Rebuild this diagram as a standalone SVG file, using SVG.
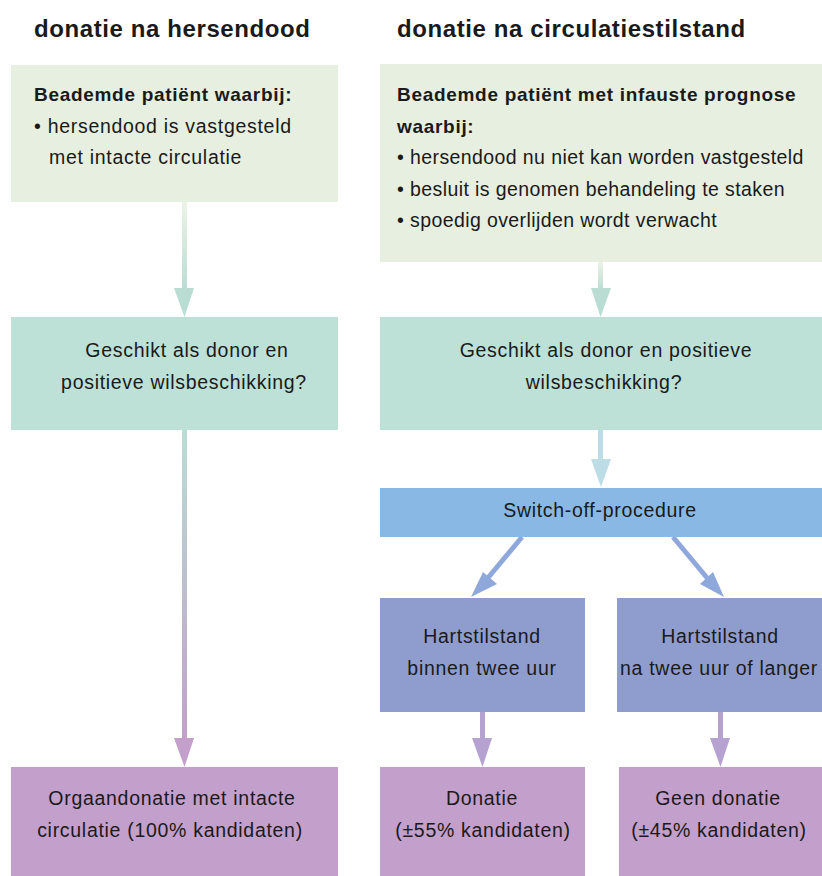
<svg xmlns="http://www.w3.org/2000/svg" width="822" height="876" viewBox="0 0 822 876">
  <style>
    text { font-family: "Liberation Sans", Arial, sans-serif; fill: #1a1a1a; }
    .h { font-size: 24px; font-weight: bold; letter-spacing: 0.6px; }
    .b { font-size: 19px; font-weight: bold; letter-spacing: 0.7px; }
    .t { font-size: 19.5px; letter-spacing: 0.7px; }
    .tn { letter-spacing: 0.4px; }
    .c { text-anchor: middle; }
    .g1 { fill: #e6efe0; }
    .g2 { fill: #bde0d7; }
    .g3 { fill: #88b8e3; }
    .g4 { fill: #8f9dce; }
    .g5 { fill: #c39fcb; }
  </style>
  <defs>
    <linearGradient id="gradTop" x1="0" y1="0" x2="0" y2="1">
      <stop offset="0" stop-color="#edf2e8"/>
      <stop offset="1" stop-color="#b9ddd3"/>
    </linearGradient>
    <linearGradient id="gradLong" x1="0" y1="0" x2="0" y2="1">
      <stop offset="0" stop-color="#b9ddd3"/>
      <stop offset="1" stop-color="#c2a0cb"/>
    </linearGradient>
  </defs>

  <!-- column headings -->
  <text class="h" x="34" y="37">donatie na hersendood</text>
  <text class="h" x="397" y="37">donatie na circulatiestilstand</text>

  <!-- connectors -->
  <g id="connectors">
    <!-- left: patient -> suitability -->
    <rect x="182" y="202" width="5" height="88" fill="url(#gradTop)"/>
    <polygon points="174,288 194,288 184.5,317" fill="#b9ddd3"/>
    <!-- right: patient -> suitability -->
    <rect x="598" y="262" width="5" height="28" fill="url(#gradTop)"/>
    <polygon points="591,288 611,288 600.5,317" fill="#b9ddd3"/>
    <!-- left: suitability -> donation -->
    <rect x="182" y="430" width="5" height="310" fill="url(#gradLong)"/>
    <polygon points="174,738 194,738 184.5,767" fill="#c2a0cb"/>
    <!-- right: suitability -> switch-off -->
    <rect x="598" y="430" width="5" height="31" fill="#bcdce6"/>
    <polygon points="591,459 611,459 601,487" fill="#bcdce6"/>
    <!-- switch-off -> heart stop within two hours -->
    <line x1="522" y1="537" x2="487" y2="579" stroke="#8fa8dc" stroke-width="5"/>
    <polygon points="471,597 483,572 497,584" fill="#8fa8dc"/>
    <!-- switch-off -> heart stop after two hours -->
    <line x1="673" y1="537" x2="708" y2="579" stroke="#8fa8dc" stroke-width="5"/>
    <polygon points="724,597 700,584 713,572" fill="#8fa8dc"/>
    <!-- heart stop -> outcomes -->
    <rect x="480" y="712" width="5" height="28" fill="#b6a2d0"/>
    <polygon points="472,738 492,738 482.5,767" fill="#b6a2d0"/>
    <rect x="718" y="712" width="5" height="28" fill="#b6a2d0"/>
    <polygon points="710,738 730,738 720.5,767" fill="#b6a2d0"/>
  </g>

  <g id="patient-brain-death">
    <rect class="g1" x="11" y="65" width="327" height="137"/>
    <text class="b" x="34" y="101">Beademde patiënt waarbij:</text>
    <text class="t" x="34" y="133">• hersendood is vastgesteld</text>
    <text class="t" x="49" y="164">met intacte circulatie</text>
  </g>

  <g id="patient-circulatory">
    <rect class="g1" x="380" y="64" width="442" height="198"/>
    <text class="b" x="397" y="101">Beademde patiënt met infauste prognose</text>
    <text class="b" x="397" y="133">waarbij:</text>
    <text class="t tn" x="397" y="164">• hersendood nu niet kan worden vastgesteld</text>
    <text class="t tn" x="397" y="196">• besluit is genomen behandeling te staken</text>
    <text class="t tn" x="397" y="227">• spoedig overlijden wordt verwacht</text>
  </g>

  <g id="suitable-left">
    <rect class="g2" x="11" y="317" width="327" height="113"/>
    <text class="t c" x="187" y="357">Geschikt als donor en</text>
    <text class="t c" x="184" y="389">positieve wilsbeschikking?</text>
  </g>

  <g id="suitable-right">
    <rect class="g2" x="380" y="317" width="442" height="113"/>
    <text class="t c" x="606" y="357">Geschikt als donor en positieve</text>
    <text class="t c" x="604" y="389">wilsbeschikking?</text>
  </g>

  <g id="switch-off">
    <rect class="g3" x="380" y="488" width="442" height="49"/>
    <text class="t c" x="600" y="517">Switch-off-procedure</text>
  </g>

  <g id="heart-stop-within">
    <rect class="g4" x="380" y="598" width="205" height="114"/>
    <text class="t c" x="482" y="643">Hartstilstand</text>
    <text class="t c" x="482" y="675">binnen twee uur</text>
  </g>

  <g id="heart-stop-after">
    <rect class="g4" x="617" y="598" width="205" height="114"/>
    <text class="t c" x="720" y="643">Hartstilstand</text>
    <text class="t c" x="719" y="675">na twee uur of langer</text>
  </g>

  <g id="donation-intact">
    <rect class="g5" x="11" y="767" width="327" height="109"/>
    <text class="t c" x="172" y="805">Orgaandonatie met intacte</text>
    <text class="t c" x="170" y="837">circulatie (100% kandidaten)</text>
  </g>

  <g id="donation">
    <rect class="g5" x="380" y="767" width="205" height="109"/>
    <text class="t c" x="482" y="805">Donatie</text>
    <text class="t c" x="483" y="837">(±55% kandidaten)</text>
  </g>

  <g id="no-donation">
    <rect class="g5" x="619" y="767" width="203" height="109"/>
    <text class="t c" x="718" y="805">Geen donatie</text>
    <text class="t c" x="719" y="837">(±45% kandidaten)</text>
  </g>
</svg>
